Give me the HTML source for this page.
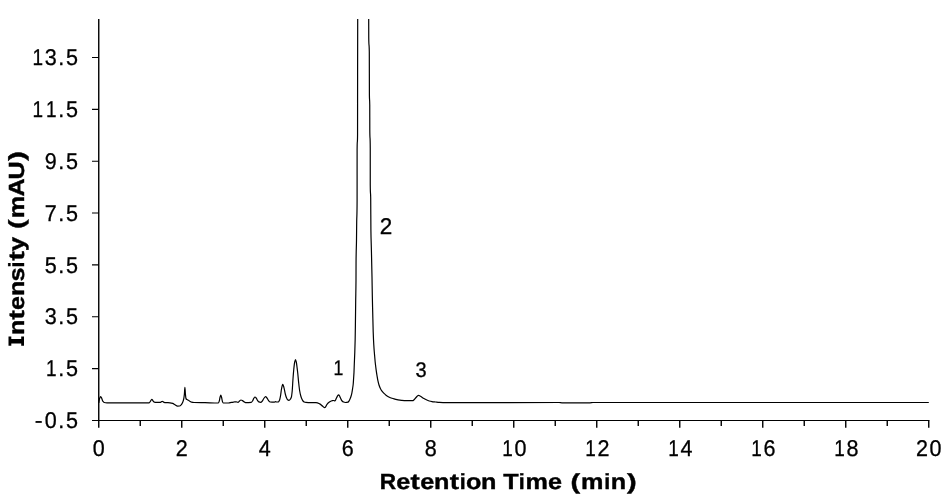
<!DOCTYPE html>
<html><head><meta charset="utf-8"><title>Chromatogram</title>
<style>
html,body{margin:0;padding:0;background:#fff;}
svg{display:block;will-change:transform;}
text{font-family:"Liberation Sans",sans-serif;fill:#000;white-space:pre;text-rendering:geometricPrecision;}
.ax{stroke:#000;stroke-width:1.05;fill:none;}
.tr{stroke:#000;stroke-width:1.2;fill:none;stroke-linejoin:round;stroke-linecap:butt;}
.lb{font-size:22.8px;stroke:#000;stroke-width:0.3px;}
.tt{font-size:21.9px;font-weight:bold;stroke:#000;stroke-width:0.4px;}
</style></head>
<body>
<svg width="950" height="495" viewBox="0 0 950 495">
<rect x="0" y="0" width="950" height="495" fill="#ffffff"/>
<path class="ax" style="stroke-width:1.4" d="M98.75,19 V427.8 M140.25,420.45 V425.9 M181.75,420.45 V427.8 M223.25,420.45 V425.9 M264.75,420.45 V427.8 M306.25,420.45 V425.9 M347.75,420.45 V427.8 M389.25,420.45 V425.9 M430.75,420.45 V427.8 M472.25,420.45 V425.9 M513.75,420.45 V427.8 M555.25,420.45 V425.9 M596.75,420.45 V427.8 M638.25,420.45 V425.9 M679.75,420.45 V427.8 M721.25,420.45 V425.9 M762.75,420.45 V427.8 M804.25,420.45 V425.9 M845.75,420.45 V427.8 M887.25,420.45 V425.9 M928.75,420.45 V427.8"/>
<path class="ax" style="stroke-width:1.12" d="M92,420.45 H929.45 M92,368.60 H98.75 M92,316.75 H98.75 M92,264.90 H98.75 M92,213.05 H98.75 M92,161.20 H98.75 M92,109.35 H98.75 M92,57.50 H98.75"/>
<path class="tr" d="M98.80,402.80 C99.07,401.37 99.33,399.24 99.60,398.50 C99.97,397.48 100.33,396.50 100.70,396.50 C101.07,396.50 101.43,397.70 101.80,398.50 C102.13,399.23 102.47,400.73 102.80,401.20 C103.27,401.86 103.73,402.40 104.20,402.50 C105.13,402.70 106.07,402.79 107.00,402.80 C121.00,402.89 135.00,402.90 149.00,402.90 C149.43,402.90 149.87,402.04 150.30,401.50 C150.80,400.88 151.30,399.30 151.80,399.30 C152.20,399.30 152.60,400.35 153.00,400.80 C153.47,401.32 153.93,402.09 154.40,402.20 C154.93,402.32 155.47,402.40 156.00,402.40 C157.50,402.40 159.00,402.37 160.50,402.30 C161.07,402.27 161.63,401.30 162.20,401.30 C162.80,401.30 163.40,402.16 164.00,402.30 C164.67,402.46 165.33,402.55 166.00,402.60 C167.33,402.71 168.67,402.69 170.00,402.80 C170.90,402.88 171.80,403.10 172.70,403.40 C173.47,403.65 174.23,404.37 175.00,404.80 C175.83,405.27 176.67,406.10 177.50,406.10 C178.20,406.10 178.90,406.07 179.60,406.00 C180.13,405.95 180.67,405.35 181.20,404.80 C181.67,404.32 182.13,403.52 182.60,402.50 C182.97,401.70 183.33,400.66 183.70,399.00 C183.93,397.94 184.17,396.21 184.40,394.00 C184.57,392.42 184.73,387.30 184.90,387.30 C185.07,387.30 185.23,392.36 185.40,394.00 C185.60,395.97 185.80,398.22 186.00,398.60 C186.33,399.23 186.67,399.38 187.00,399.60 C187.50,399.93 188.00,400.01 188.50,400.30 C189.00,400.59 189.50,401.10 190.00,401.40 C190.53,401.72 191.07,402.09 191.60,402.20 C192.40,402.37 193.20,402.47 194.00,402.50 C197.67,402.64 201.33,402.63 205.00,402.70 C209.43,402.79 213.87,403.00 218.30,403.00 C218.63,403.00 218.97,401.97 219.30,401.00 C219.57,400.23 219.83,397.90 220.10,397.00 C220.33,396.21 220.57,395.20 220.80,395.20 C221.03,395.20 221.27,396.21 221.50,397.00 C221.77,397.90 222.03,400.17 222.30,401.00 C222.60,401.93 222.90,403.00 223.20,403.00 C224.97,403.00 226.73,403.00 228.50,403.00 C229.50,403.00 230.50,402.46 231.50,402.30 C232.33,402.17 233.17,402.09 234.00,402.00 C234.67,401.93 235.33,401.80 236.00,401.80 C236.67,401.80 237.33,402.30 238.00,402.30 C238.50,402.30 239.00,401.38 239.50,401.00 C240.00,400.62 240.50,400.00 241.00,400.00 C241.50,400.00 242.00,400.33 242.50,400.60 C243.00,400.87 243.50,401.48 244.00,401.80 C244.50,402.12 245.00,402.60 245.50,402.60 C247.40,402.60 249.30,402.56 251.20,402.40 C251.63,402.36 252.07,401.61 252.50,401.00 C252.93,400.39 253.37,398.91 253.80,398.30 C254.20,397.73 254.60,397.00 255.00,397.00 C255.40,397.00 255.80,397.54 256.20,398.00 C256.63,398.50 257.07,399.78 257.50,400.40 C257.93,401.02 258.37,401.74 258.80,401.90 C259.47,402.14 260.13,402.30 260.80,402.30 C261.30,402.30 261.80,401.57 262.30,401.00 C262.80,400.43 263.30,399.13 263.80,398.50 C264.40,397.74 265.00,396.70 265.60,396.70 C266.07,396.70 266.53,397.45 267.00,398.00 C267.50,398.59 268.00,399.92 268.50,400.50 C269.07,401.16 269.63,401.94 270.20,402.00 C271.47,402.14 272.73,402.20 274.00,402.20 C274.50,402.20 275.00,401.70 275.50,401.70 C275.83,401.70 276.17,402.00 276.50,402.00 C277.17,402.00 277.83,401.94 278.50,401.80 C278.87,401.72 279.23,400.89 279.60,400.00 C279.90,399.27 280.20,397.62 280.50,396.00 C280.83,394.19 281.17,390.67 281.50,389.00 C281.90,387.00 282.30,384.40 282.70,384.40 C283.07,384.40 283.43,385.87 283.80,387.00 C284.30,388.54 284.80,392.13 285.30,394.00 C285.70,395.50 286.10,396.91 286.50,397.80 C286.87,398.62 287.23,399.41 287.60,399.70 C288.00,400.01 288.40,400.30 288.80,400.30 C289.20,400.30 289.60,399.95 290.00,399.60 C290.47,399.19 290.93,398.47 291.40,397.00 C291.67,396.16 291.93,393.70 292.20,391.00 C292.43,388.63 292.67,383.53 292.90,380.30 C293.20,376.15 293.50,371.88 293.80,369.00 C294.10,366.12 294.40,363.33 294.70,362.00 C294.97,360.82 295.23,359.50 295.50,359.50 C295.77,359.50 296.03,360.83 296.30,362.00 C296.53,363.02 296.77,365.22 297.00,367.00 C297.23,368.78 297.47,370.59 297.70,372.70 C298.03,375.71 298.37,380.00 298.70,383.00 C299.03,386.00 299.37,389.06 299.70,391.00 C300.07,393.13 300.43,394.76 300.80,396.00 C301.20,397.35 301.60,398.35 302.00,399.20 C302.33,399.91 302.67,400.62 303.00,401.00 C303.40,401.46 303.80,401.85 304.20,402.00 C304.80,402.22 305.40,402.33 306.00,402.40 C307.33,402.56 308.67,402.70 310.00,402.70 C312.00,402.70 314.00,402.70 316.00,402.70 C317.23,402.70 318.47,403.32 319.70,403.90 C320.70,404.37 321.70,405.58 322.70,406.30 C323.40,406.81 324.10,407.70 324.80,407.70 C325.13,407.70 325.47,406.98 325.80,406.50 C326.20,405.92 326.60,404.81 327.00,404.30 C327.80,403.28 328.60,402.62 329.40,402.10 C330.40,401.45 331.40,400.71 332.40,400.60 C332.87,400.55 333.33,400.50 333.80,400.50 C334.17,400.50 334.53,401.00 334.90,401.00 C335.13,401.00 335.37,400.42 335.60,400.00 C335.77,399.70 335.93,399.18 336.10,398.80 C336.50,397.90 336.90,396.87 337.30,396.30 C337.77,395.63 338.23,394.80 338.70,394.80 C338.97,394.80 339.23,395.37 339.50,395.80 C339.77,396.23 340.03,397.00 340.30,397.60 C340.60,398.27 340.90,399.05 341.20,399.60 C341.50,400.15 341.80,400.70 342.10,401.00 C342.57,401.47 343.03,401.80 343.50,402.00 C344.07,402.24 344.63,402.50 345.20,402.50 C346.13,402.50 347.07,402.37 348.00,402.10 C348.37,401.99 348.73,401.35 349.10,400.80 C349.43,400.30 349.77,399.58 350.10,398.80 C350.43,398.02 350.77,397.11 351.10,396.00 C351.37,395.12 351.63,394.10 351.90,392.80 C352.13,391.66 352.37,390.03 352.60,388.50 C352.80,387.19 353.00,386.23 353.20,384.30 C353.33,383.01 353.47,380.53 353.60,378.50 C353.73,376.47 353.87,374.81 354.00,372.10 C354.10,370.07 354.20,366.54 354.30,364.00 C354.38,361.89 354.47,360.00 354.55,358.00 C354.63,356.00 354.72,354.33 354.80,352.00 C354.92,348.74 355.03,345.17 355.15,340.00 C355.23,336.31 355.32,330.79 355.40,325.00 C355.50,318.06 355.60,307.41 355.70,300.00 C355.80,292.59 355.90,293.27 356.00,280.00 C356.02,277.79 356.03,264.84 356.05,263.00 C356.20,246.40 356.35,250.14 356.50,240.00 C356.57,235.49 356.63,226.68 356.70,222.00 C356.83,212.65 356.97,221.03 357.10,200.00 C357.10,199.47 357.11,150.33 357.11,150.00 C357.26,135.52 357.40,147.98 357.55,135.00 C357.57,133.53 357.58,88.26 357.60,75.00 C357.63,48.47 357.67,37.67 357.70,19.00"/>
<path class="tr" d="M368.70,19.00 C368.72,25.33 368.73,36.95 368.75,38.00 C368.93,49.55 369.12,40.92 369.30,52.00 C369.33,54.02 369.37,92.87 369.40,95.00 C369.52,102.46 369.63,96.88 369.75,105.00 C369.77,106.16 369.78,128.40 369.80,130.00 C369.95,144.38 370.10,130.74 370.25,148.00 C370.25,148.38 370.26,184.72 370.26,185.00 C370.41,197.52 370.55,190.00 370.70,198.00 C370.77,201.64 370.83,225.33 370.90,230.00 C371.07,241.67 371.23,242.95 371.40,250.00 C371.60,258.46 371.80,266.55 372.00,277.00 C372.10,282.23 372.20,289.98 372.30,295.00 C372.43,301.69 372.57,306.50 372.70,312.00 C372.87,318.88 373.03,327.27 373.20,332.00 C373.40,337.67 373.60,341.62 373.80,345.00 C373.97,347.82 374.13,349.94 374.30,352.00 C374.45,353.85 374.60,355.27 374.75,357.00 C374.88,358.54 375.02,360.46 375.15,361.80 C375.33,363.65 375.52,364.99 375.70,366.50 C375.83,367.60 375.97,368.73 376.10,369.70 C376.40,371.89 376.70,373.80 377.00,375.60 C377.30,377.40 377.60,379.20 377.90,380.60 C378.27,382.31 378.63,383.86 379.00,385.00 C379.47,386.45 379.93,387.56 380.40,388.50 C380.93,389.58 381.47,390.48 382.00,391.20 C382.67,392.09 383.33,392.74 384.00,393.40 C384.67,394.06 385.33,394.70 386.00,395.20 C386.93,395.91 387.87,396.53 388.80,397.00 C389.87,397.53 390.93,397.95 392.00,398.30 C392.97,398.62 393.93,398.84 394.90,399.10 C395.93,399.38 396.97,399.71 398.00,399.90 C399.13,400.11 400.27,400.30 401.40,400.40 C402.93,400.54 404.47,400.70 406.00,400.70 C408.23,400.70 410.47,400.70 412.70,400.70 C413.07,400.70 413.43,400.29 413.80,400.00 C414.53,399.42 415.27,398.23 416.00,397.50 C416.80,396.71 417.60,395.40 418.40,395.40 C418.93,395.40 419.47,395.76 420.00,396.00 C421.33,396.60 422.67,397.77 424.00,398.50 C425.73,399.45 427.47,400.51 429.20,401.00 C430.13,401.27 431.07,401.46 432.00,401.60 C433.17,401.78 434.33,401.87 435.50,402.00 C436.67,402.13 437.83,402.32 439.00,402.40 C440.33,402.49 441.67,402.60 443.00,402.60 C481.67,402.60 520.33,402.50 559.00,402.50 C560.00,402.50 561.00,402.80 562.00,402.80 C571.33,402.80 580.67,402.80 590.00,402.80 C591.00,402.80 592.00,402.50 593.00,402.50 C704.93,402.50 816.87,402.50 928.80,402.50"/>
<g aria-label="13.5"><text class="lb" transform="translate(32.51,65.20) scale(0.8316,1)">1</text><text class="lb" transform="translate(44.71,65.20) scale(0.9450,1)">3</text><text class="lb" transform="translate(58.37,65.20) scale(0.9450,1)">.</text><text class="lb" transform="translate(66.03,65.20) scale(0.9450,1)">5</text></g>
<g aria-label="11.5"><text class="lb" transform="translate(32.51,117.05) scale(0.8316,1)">1</text><text class="lb" transform="translate(46.07,117.05) scale(0.8316,1)">1</text><text class="lb" transform="translate(58.37,117.05) scale(0.9450,1)">.</text><text class="lb" transform="translate(66.03,117.05) scale(0.9450,1)">5</text></g>
<g aria-label="9.5"><text class="lb" transform="translate(44.71,168.90) scale(0.9450,1)">9</text><text class="lb" transform="translate(58.37,168.90) scale(0.9450,1)">.</text><text class="lb" transform="translate(66.03,168.90) scale(0.9450,1)">5</text></g>
<g aria-label="7.5"><text class="lb" transform="translate(44.71,220.75) scale(0.9450,1)">7</text><text class="lb" transform="translate(58.37,220.75) scale(0.9450,1)">.</text><text class="lb" transform="translate(66.03,220.75) scale(0.9450,1)">5</text></g>
<g aria-label="5.5"><text class="lb" transform="translate(44.71,272.60) scale(0.9450,1)">5</text><text class="lb" transform="translate(58.37,272.60) scale(0.9450,1)">.</text><text class="lb" transform="translate(66.03,272.60) scale(0.9450,1)">5</text></g>
<g aria-label="3.5"><text class="lb" transform="translate(44.71,324.45) scale(0.9450,1)">3</text><text class="lb" transform="translate(58.37,324.45) scale(0.9450,1)">.</text><text class="lb" transform="translate(66.03,324.45) scale(0.9450,1)">5</text></g>
<g aria-label="1.5"><text class="lb" transform="translate(46.07,376.30) scale(0.8316,1)">1</text><text class="lb" transform="translate(58.37,376.30) scale(0.9450,1)">.</text><text class="lb" transform="translate(66.03,376.30) scale(0.9450,1)">5</text></g>
<g aria-label="-0.5"><text class="lb" transform="translate(34.83,427.60) scale(1.0395,1)">-</text><text class="lb" transform="translate(44.71,428.15) scale(0.9450,1)">0</text><text class="lb" transform="translate(58.37,428.15) scale(0.9450,1)">.</text><text class="lb" transform="translate(66.03,428.15) scale(0.9450,1)">5</text></g>
<g aria-label="0"><text class="lb" transform="translate(92.76,456.30) scale(0.9450,1)">0</text></g>
<g aria-label="2"><text class="lb" transform="translate(175.76,456.30) scale(0.9450,1)">2</text></g>
<g aria-label="4"><text class="lb" transform="translate(258.76,456.30) scale(0.9450,1)">4</text></g>
<g aria-label="6"><text class="lb" transform="translate(341.76,456.30) scale(0.9450,1)">6</text></g>
<g aria-label="8"><text class="lb" transform="translate(424.76,456.30) scale(0.9450,1)">8</text></g>
<g aria-label="10"><text class="lb" transform="translate(502.35,456.30) scale(0.8316,1)">1</text><text class="lb" transform="translate(514.54,456.30) scale(0.9450,1)">0</text></g>
<g aria-label="12"><text class="lb" transform="translate(585.35,456.30) scale(0.8316,1)">1</text><text class="lb" transform="translate(597.54,456.30) scale(0.9450,1)">2</text></g>
<g aria-label="14"><text class="lb" transform="translate(668.35,456.30) scale(0.8316,1)">1</text><text class="lb" transform="translate(680.54,456.30) scale(0.9450,1)">4</text></g>
<g aria-label="16"><text class="lb" transform="translate(751.35,456.30) scale(0.8316,1)">1</text><text class="lb" transform="translate(763.54,456.30) scale(0.9450,1)">6</text></g>
<g aria-label="18"><text class="lb" transform="translate(834.35,456.30) scale(0.8316,1)">1</text><text class="lb" transform="translate(846.54,456.30) scale(0.9450,1)">8</text></g>
<g aria-label="20"><text class="lb" transform="translate(915.98,456.30) scale(0.9450,1)">2</text><text class="lb" transform="translate(929.54,456.30) scale(0.9450,1)">0</text></g>
<text class="lb" style="font-size:21.2px" transform="translate(333.50,374.50) scale(0.8316,1)">1</text>
<text class="lb" style="font-size:22.8px" transform="translate(379.75,234.00) scale(0.9875,1)">2</text>
<text class="lb" style="font-size:21.2px" transform="translate(415.40,377.00) scale(0.9450,1)">3</text>
<g aria-label="Retention Time (min)"><text class="tt" transform="translate(379.66,488.80) scale(1.0350,1)">R</text><text class="tt" transform="translate(396.26,488.80) scale(1.1500,1)">e</text><text class="tt" transform="translate(410.59,488.80) scale(1.2650,1)">t</text><text class="tt" transform="translate(420.14,488.80) scale(1.1500,1)">e</text><text class="tt" transform="translate(434.12,488.80) scale(1.1500,1)">n</text><text class="tt" transform="translate(449.65,488.80) scale(1.2650,1)">t</text><text class="tt" transform="translate(459.79,488.80) scale(0.9775,1)">i</text><text class="tt" transform="translate(466.04,488.80) scale(1.1500,1)">o</text><text class="tt" transform="translate(480.97,488.80) scale(1.1500,1)">n</text><text class="tt" transform="translate(503.13,488.80) scale(1.1500,1)">T</text><text class="tt" transform="translate(518.77,488.80) scale(0.9775,1)">i</text><text class="tt" transform="translate(525.49,488.80) scale(1.1500,1)">m</text><text class="tt" transform="translate(548.05,488.80) scale(1.1500,1)">e</text><text class="tt" transform="translate(570.40,488.80) scale(1.3225,1)">(</text><text class="tt" transform="translate(581.10,488.80) scale(1.1500,1)">m</text><text class="tt" transform="translate(604.25,488.80) scale(0.9775,1)">i</text><text class="tt" transform="translate(610.78,488.80) scale(1.1500,1)">n</text><text class="tt" transform="translate(627.04,488.80) scale(1.3225,1)">)</text></g>
<g aria-label="Intensity (mAU)" transform="translate(24,346.6) rotate(-90)"><text class="tt" transform="translate(11.55,0.00) scale(1.1500,1)">n</text><text class="tt" transform="translate(27.08,0.00) scale(1.2650,1)">t</text><text class="tt" transform="translate(36.62,0.00) scale(1.1500,1)">e</text><text class="tt" transform="translate(50.61,0.00) scale(1.1500,1)">n</text><text class="tt" transform="translate(65.22,0.00) scale(1.1500,1)">s</text><text class="tt" transform="translate(79.22,0.00) scale(0.9775,1)">i</text><text class="tt" transform="translate(86.08,0.00) scale(1.2650,1)">t</text><text class="tt" transform="translate(95.49,0.00) scale(1.1500,1)">y</text><text class="tt" transform="translate(117.70,0.00) scale(1.3225,1)">(</text><text class="tt" transform="translate(128.41,0.00) scale(1.1500,1)">m</text><text class="tt" transform="translate(150.07,0.00) scale(1.1500,1)">A</text><text class="tt" transform="translate(167.01,0.00) scale(1.1500,1)">U</text><text class="tt" transform="translate(185.73,0.00) scale(1.3225,1)">)</text></g>
<path transform="translate(24,346.6) rotate(-90)" fill="#000" d="M0.8,0 H10 V-2.8 H7.6 V-12.7 H10 V-15.5 H0.8 V-12.7 H3.2 V-2.8 H0.8 Z"/>
</svg>
</body></html>
